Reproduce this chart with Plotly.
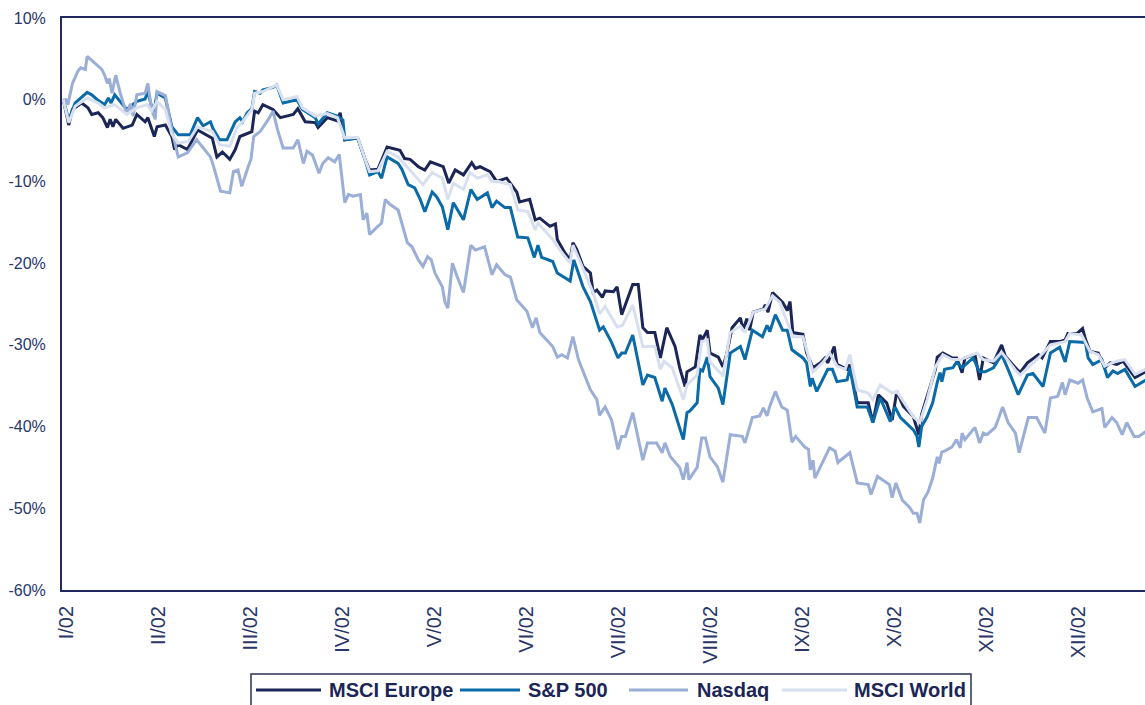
import plotly.graph_objects as go

# ---- Data (x = months since start of 2002, I/02 = 0; y = % change) ----
month_labels = ["I/02", "II/02", "III/02", "IV/02", "V/02", "VI/02",
                "VII/02", "VIII/02", "IX/02", "X/02", "XI/02", "XII/02"]
y_tick_vals = [10, 0, -10, -20, -30, -40, -50, -60]
y_tick_text = ["10%", "0%", "-10%", "-20%", "-30%", "-40%", "-50%", "-60%"]

europe_x = [-0.03, 0.03, 0.07, 0.17, 0.24, 0.28, 0.35, 0.40, 0.45, 0.48, 0.51, 0.54, 0.62, 0.72, 0.77, 0.86, 0.89,
            0.96, 0.99, 1.08, 1.15, 1.18, 1.22, 1.32, 1.43, 1.59, 1.64, 1.70, 1.78, 1.84, 1.89, 2.02, 2.05, 2.09,
            2.14, 2.25, 2.33, 2.47, 2.52, 2.60, 2.71, 2.74, 2.84, 2.95, 2.98, 3.03, 3.17, 3.25, 3.30, 3.39, 3.49,
            3.58, 3.63, 3.68, 3.74, 3.83, 3.90, 3.96, 4.10, 4.16, 4.23, 4.32, 4.41, 4.45, 4.50, 4.61, 4.68, 4.79,
            4.90, 4.93, 5.04, 5.10, 5.15, 5.26, 5.32, 5.34, 5.42, 5.48, 5.51, 5.55, 5.62, 5.70, 5.73, 5.77, 5.83,
            5.86, 5.95, 5.99, 6.04, 6.08, 6.16, 6.22, 6.27, 6.32, 6.40, 6.46, 6.53, 6.62, 6.67, 6.73, 6.75, 6.84,
            6.89, 6.92, 6.97, 7.00, 7.09, 7.14, 7.18, 7.24, 7.33, 7.36, 7.40, 7.43, 7.47, 7.58, 7.60, 7.63, 7.68,
            7.79, 7.84, 7.87, 7.90, 8.01, 8.05, 8.12, 8.20, 8.25, 8.28, 8.35, 8.38, 8.49, 8.52, 8.60, 8.72, 8.77,
            8.83, 8.92, 8.98, 9.03, 9.10, 9.21, 9.25, 9.27, 9.30, 9.39, 9.45, 9.47, 9.53, 9.63, 9.68, 9.74, 9.77,
            9.88, 9.93, 9.97, 10.08, 10.17, 10.21, 10.32, 10.37, 10.45, 10.57, 10.61, 10.70, 10.80, 10.86, 10.89,
            10.99, 11.05, 11.08, 11.13, 11.22, 11.29, 11.35, 11.42, 11.49, 11.62, 11.75]
europe_y = [0.0, -3.1, -1.2, -0.4, -1.0, -1.8, -1.6, -2.2, -3.4, -2.4, -3.3, -2.4, -3.5, -3.1, -1.8, -2.7, -2.2,
            -4.5, -3.3, -3.1, -4.5, -6.1, -5.5, -6.1, -3.7, -4.7, -7.0, -6.4, -7.3, -6.1, -4.5, -3.9, -1.4, -1.6,
            -0.6, -1.2, -2.2, -1.8, -1.1, -2.7, -2.8, -3.4, -2.2, -2.6, -1.6, -4.9, -4.7, -7.3, -8.6, -8.5, -5.8,
            -6.0, -6.2, -7.2, -7.3, -8.2, -8.6, -7.6, -8.2, -10.2, -8.6, -9.2, -7.7, -8.4, -8.2, -8.8, -10.0, -9.6,
            -11.3, -12.5, -12.2, -14.7, -14.5, -15.5, -15.2, -17.1, -18.7, -19.6, -17.5, -18.3, -20.4, -21.2, -23.6,
            -23.3, -24.2, -23.4, -23.5, -22.9, -26.3, -25.1, -22.6, -22.6, -27.9, -28.5, -28.5, -31.6, -27.9, -30.2,
            -32.8, -35.1, -33.3, -32.7, -28.8, -29.3, -28.2, -31.0, -31.5, -32.7, -31.2, -27.9, -26.7, -28.2, -26.8,
            -28.2, -26.0, -25.6, -25.1, -26.0, -23.6, -24.8, -25.8, -24.7, -28.5, -28.7, -31.0, -32.8, -32.2, -31.6,
            -32.2, -30.2, -32.4, -33.0, -32.4, -37.1, -37.1, -39.5, -36.1, -37.1, -39.2, -35.7, -37.5, -38.8, -40.1,
            -41.0, -38.5, -35.1, -33.0, -31.5, -31.0, -31.6, -31.6, -33.4, -31.6, -31.2, -34.3, -31.6, -32.2, -30.0,
            -31.4, -32.8, -33.4, -32.2, -31.2, -31.6, -29.6, -29.6, -29.4, -28.6, -28.6, -28.0, -29.3, -30.8, -31.0,
            -32.8, -32.2, -32.4, -32.0, -34.0, -33.2]

sp500_x = [-0.03, 0.03, 0.10, 0.23, 0.28, 0.34, 0.42, 0.46, 0.49, 0.53, 0.66, 0.77, 0.86, 0.89, 0.95, 0.99, 1.08,
           1.15, 1.22, 1.35, 1.43, 1.49, 1.57, 1.60, 1.67, 1.75, 1.84, 1.89, 1.92, 1.97, 2.02, 2.05, 2.11, 2.14,
           2.25, 2.29, 2.36, 2.51, 2.57, 2.71, 2.74, 2.84, 2.95, 3.01, 3.03, 3.17, 3.25, 3.30, 3.39, 3.43, 3.49,
           3.61, 3.65, 3.72, 3.79, 3.85, 3.90, 3.98, 4.03, 4.09, 4.15, 4.21, 4.32, 4.40, 4.47, 4.58, 4.63, 4.68,
           4.77, 4.83, 4.91, 5.02, 5.09, 5.13, 5.17, 5.29, 5.34, 5.48, 5.52, 5.62, 5.70, 5.73, 5.80, 5.84, 5.93,
           6.00, 6.04, 6.08, 6.16, 6.27, 6.32, 6.40, 6.48, 6.51, 6.59, 6.71, 6.75, 6.78, 6.86, 6.89, 6.92, 6.97,
           7.00, 7.09, 7.14, 7.22, 7.33, 7.38, 7.46, 7.57, 7.62, 7.65, 7.71, 7.79, 7.84, 7.89, 8.01, 8.05, 8.09,
           8.11, 8.16, 8.28, 8.33, 8.38, 8.49, 8.52, 8.60, 8.71, 8.77, 8.85, 8.96, 9.01, 9.07, 9.21, 9.25, 9.27,
           9.30, 9.36, 9.42, 9.47, 9.50, 9.52, 9.55, 9.64, 9.68, 9.74, 9.86, 9.93, 9.99, 10.08, 10.17, 10.24,
           10.35, 10.45, 10.51, 10.62, 10.70, 10.80, 10.86, 10.91, 11.02, 11.08, 11.11, 11.16, 11.26, 11.32,
           11.38, 11.43, 11.51, 11.62, 11.75]
sp500_y = [0.0, -2.5, -0.4, 0.9, 0.6, 0.0, -0.6, 0.2, -0.4, 0.6, -1.2, -0.2, 0.1, 1.0, -1.8, 0.8, 0.2,
           -3.3, -4.3, -4.3, -2.2, -3.2, -2.7, -3.6, -4.9, -4.9, -2.7, -2.2, -2.7, -1.6, -1.1, 1.0, 0.8, 1.2,
           1.5, 1.8, -0.4, 0.0, -1.2, -2.2, -3.0, -1.6, -2.0, -2.5, -4.9, -4.7, -7.3, -9.2, -8.8, -9.6, -7.0,
           -7.8, -8.5, -10.4, -10.8, -12.2, -13.7, -11.3, -11.9, -13.1, -15.9, -12.6, -14.7, -11.0, -12.2, -11.4,
           -13.2, -12.4, -13.2, -13.2, -16.8, -16.9, -19.3, -17.8, -19.3, -19.8, -21.2, -22.2, -19.6, -22.9, -24.7,
           -25.7, -28.2, -27.8, -29.7, -31.6, -31.0, -31.0, -28.8, -34.9, -33.7, -34.0, -36.9, -35.3, -37.3, -41.6,
           -38.3, -38.1, -37.1, -33.0, -33.2, -31.5, -33.9, -35.3, -37.3, -31.0, -30.2, -31.8, -28.2, -29.0, -27.6,
           -28.4, -26.3, -28.2, -28.2, -30.6, -31.6, -32.2, -35.1, -34.1, -35.7, -33.0, -33.0, -34.5, -34.3, -32.8,
           -37.6, -37.6, -39.5, -36.5, -39.4, -37.6, -38.9, -40.4, -41.2, -42.5, -40.0, -38.8, -37.1, -34.6, -33.4,
           -34.5, -33.0, -32.8, -32.1, -32.8, -31.6, -33.3, -33.3, -32.8, -31.2, -33.0, -36.1, -33.7, -33.5, -35.1,
           -31.0, -30.3, -32.1, -29.6, -29.7, -29.7, -31.6, -32.4, -31.8, -34.0, -33.2, -33.5, -33.0, -35.1, -34.2]

nasdaq_x = [-0.03, 0.00, 0.02, 0.07, 0.13, 0.16, 0.21, 0.23, 0.39, 0.42, 0.45, 0.47, 0.50, 0.54, 0.59, 0.66, 0.70,
            0.73, 0.77, 0.86, 0.89, 0.93, 0.97, 0.99, 1.08, 1.15, 1.22, 1.32, 1.42, 1.57, 1.60, 1.68, 1.78, 1.82,
            1.87, 1.91, 1.98, 2.01, 2.04, 2.11, 2.14, 2.20, 2.25, 2.30, 2.36, 2.47, 2.52, 2.58, 2.62, 2.68, 2.75,
            2.79, 2.85, 2.92, 2.97, 3.03, 3.07, 3.12, 3.20, 3.23, 3.27, 3.30, 3.38, 3.43, 3.47, 3.52, 3.61, 3.71,
            3.76, 3.83, 3.88, 3.93, 3.97, 4.01, 4.09, 4.12, 4.15, 4.20, 4.25, 4.32, 4.40, 4.45, 4.55, 4.63, 4.68,
            4.77, 4.83, 4.90, 5.01, 5.07, 5.11, 5.15, 5.29, 5.34, 5.39, 5.45, 5.51, 5.57, 5.70, 5.77, 5.80, 5.86,
            5.93, 6.00, 6.04, 6.08, 6.16, 6.22, 6.27, 6.32, 6.42, 6.48, 6.51, 6.57, 6.67, 6.71, 6.75, 6.77, 6.86,
            6.91, 6.95, 7.00, 7.08, 7.14, 7.22, 7.35, 7.38, 7.46, 7.54, 7.58, 7.62, 7.65, 7.71, 7.78, 7.84, 7.89,
            7.93, 8.03, 8.07, 8.09, 8.12, 8.14, 8.30, 8.36, 8.39, 8.52, 8.60, 8.72, 8.75, 8.82, 8.95, 8.98, 9.02,
            9.09, 9.17, 9.21, 9.25, 9.28, 9.32, 9.37, 9.42, 9.47, 9.49, 9.52, 9.55, 9.63, 9.68, 9.72, 9.74, 9.77,
            9.88, 9.93, 9.97, 10.01, 10.10, 10.14, 10.18, 10.24, 10.32, 10.36, 10.46, 10.55, 10.64, 10.70, 10.78,
            10.83, 10.86, 10.91, 11.00, 11.05, 11.10, 11.16, 11.26, 11.29, 11.37, 11.42, 11.48, 11.53, 11.61,
            11.66, 11.75]
nasdaq_y = [0.0, 0.0, -0.6, 2.0, 3.5, 3.9, 3.7, 5.3, 3.7, 3.0, 2.0, 2.6, 0.8, 3.0, 0.8, -1.8, -0.5,
            -2.0, 0.6, 0.8, 2.0, -1.2, -2.4, 1.0, 0.5, -3.7, -7.0, -6.5, -4.9, -7.0, -8.0, -11.2, -11.4, -8.8,
            -8.6, -10.6, -8.2, -7.3, -4.5, -3.9, -3.4, -2.4, -1.4, -3.7, -5.9, -5.9, -4.9, -7.8, -6.3, -6.8, -9.0,
            -7.8, -7.1, -7.6, -6.7, -12.6, -11.6, -11.8, -11.6, -14.7, -13.9, -16.5, -15.6, -15.1, -12.2, -12.8,
            -13.5, -17.5, -18.0, -19.6, -20.4, -19.2, -19.6, -21.2, -22.9, -24.8, -25.5, -20.0, -21.6, -23.6,
            -17.8, -18.4, -18.0, -21.4, -20.2, -21.4, -21.7, -24.5, -25.9, -27.9, -26.7, -28.5, -30.2, -31.5,
            -31.2, -31.6, -29.0, -31.8, -35.5, -36.7, -38.6, -37.6, -39.2, -42.8, -41.2, -41.2, -38.3, -41.6,
            -44.1, -42.0, -42.0, -43.2, -42.0, -43.7, -45.0, -46.5, -44.4, -46.5, -45.0, -41.4, -41.4, -43.7,
            -44.9, -46.8, -41.0, -41.2, -42.0, -38.9, -38.7, -37.7, -38.7, -37.5, -35.7, -37.6, -38.0, -41.9,
            -41.2, -42.5, -42.8, -45.3, -44.1, -46.3, -42.6, -43.0, -44.4, -43.2, -46.9, -47.1, -48.3, -46.1,
            -47.1, -48.7, -46.9, -49.0, -49.9, -50.6, -50.6, -51.8, -49.0, -48.0, -46.3, -43.7, -44.5, -43.1,
            -43.0, -42.5, -41.6, -42.6, -40.8, -41.6, -40.1, -42.0, -40.8, -41.0, -40.1, -38.9, -37.6, -39.5,
            -40.8, -43.2, -38.9, -38.9, -40.8, -36.5, -36.3, -34.6, -36.1, -34.3, -34.7, -34.3, -36.5, -38.2,
            -37.8, -40.1, -38.9, -39.5, -41.0, -39.5, -41.2, -41.2, -40.5]

world_x = [-0.03, 0.03, 0.10, 0.23, 0.35, 0.42, 0.53, 0.66, 0.77, 0.88, 0.93, 0.99, 1.08, 1.15, 1.22, 1.33, 1.43,
           1.59, 1.67, 1.78, 1.86, 1.89, 2.02, 2.05, 2.14, 2.29, 2.36, 2.51, 2.57, 2.71, 2.84, 2.95, 3.03, 3.17,
           3.25, 3.30, 3.39, 3.49, 3.61, 3.74, 3.88, 3.98, 4.09, 4.15, 4.21, 4.32, 4.39, 4.47, 4.58, 4.63, 4.70,
           4.83, 4.91, 5.02, 5.10, 5.13, 5.29, 5.37, 5.48, 5.51, 5.62, 5.73, 5.80, 5.86, 5.99, 6.05, 6.16, 6.27,
           6.40, 6.46, 6.50, 6.59, 6.71, 6.75, 6.86, 6.91, 6.97, 7.00, 7.11, 7.14, 7.22, 7.33, 7.38, 7.47, 7.60,
           7.68, 7.76, 7.79, 7.90, 8.01, 8.05, 8.12, 8.23, 8.30, 8.38, 8.47, 8.52, 8.60, 8.72, 8.77, 8.85, 8.98,
           9.03, 9.21, 9.28, 9.36, 9.45, 9.53, 9.63, 9.72, 9.90, 9.97, 10.08, 10.17, 10.32, 10.37, 10.57, 10.70,
           10.86, 10.91, 11.04, 11.13, 11.22, 11.29, 11.42, 11.51, 11.62, 11.75]
world_y = [0.0, -2.8, -0.8, 0.2, -0.4, -1.0, -0.6, -1.8, -1.0, -0.6, -1.4, -0.2, -1.2, -4.2, -5.3, -5.1, -3.3,
           -3.9, -5.5, -5.7, -3.4, -3.1, -1.2, 0.8, 1.0, 1.8, 0.0, 0.4, -1.0, -2.0, -1.7, -2.2, -4.7, -4.6,
           -7.3, -8.8, -8.7, -6.3, -7.0, -8.6, -10.4, -8.9, -9.6, -12.2, -10.2, -11.0, -8.9, -9.6, -9.2, -10.0,
           -10.0, -10.4, -13.5, -13.7, -15.9, -15.1, -17.1, -18.4, -20.0, -17.8, -20.6, -23.6, -26.2, -25.3,
           -27.8, -27.6, -25.1, -30.2, -30.2, -33.0, -32.0, -32.8, -36.7, -34.9, -33.7, -29.6, -29.4, -32.1,
           -33.4, -33.8, -28.5, -27.7, -28.5, -26.0, -25.6, -24.0, -24.8, -25.8, -29.0, -29.0, -30.6, -33.3,
           -32.1, -31.0, -32.6, -33.0, -31.2, -35.5, -35.9, -36.7, -34.9, -35.9, -35.7, -38.8, -39.5, -36.7,
           -32.7, -31.2, -31.8, -31.8, -31.0, -31.8, -32.0, -30.9, -33.1, -33.7, -31.6, -30.0, -29.6, -28.6,
           -28.8, -30.8, -31.2, -32.6, -32.0, -31.8, -33.6, -32.9]

series_names = ["MSCI Europe", "S&P 500", "Nasdaq", "MSCI World"]
series_colors = ["#1b2657", "#0a6ba8", "#9aaed6", "#d8e0f0"]

# ---- Figure ----
NAVY = "#1f2b5c"
FONT = "Liberation Sans, Arial, sans-serif"

fig = go.Figure()
all_x = [europe_x, sp500_x, nasdaq_x, world_x]
all_y = [europe_y, sp500_y, nasdaq_y, world_y]
for name, color, xs, ys in zip(series_names, series_colors, all_x, all_y):
    fig.add_trace(go.Scatter(x=xs, y=ys, name=name, mode="lines",
                             line=dict(color=color, width=3), showlegend=False))

fig.update_layout(
    width=1145, height=705,
    margin=dict(l=62, r=0, t=18, b=115, autoexpand=False),
    paper_bgcolor="white", plot_bgcolor="white",
    font=dict(family=FONT, color="#2a3668"),
    xaxis=dict(range=[-0.0435, 11.728], tickmode="array", automargin=False,
               tickvals=list(range(len(month_labels))), ticktext=month_labels,
               tickangle=-90, tickfont=dict(size=20, family=FONT, color="#2a3668"),
               showgrid=False, zeroline=False, showline=True, mirror=True,
               linecolor=NAVY, linewidth=2, ticks="", ticklabelstandoff=6),
    yaxis=dict(range=[-60, 10], tickmode="array", tickvals=y_tick_vals, ticktext=y_tick_text,
               automargin=False,
               tickfont=dict(size=16, family=FONT, color="#2a3668"),
               showgrid=False, zeroline=False, showline=True, mirror=False,
               linecolor=NAVY, linewidth=2, ticks="", ticklabelstandoff=11),
)

# ---- Legend (drawn manually to match the long line samples) ----
def px_x(p):
    return (p - 62) / 1083.0

def px_y(p):
    return (590 - p) / 572.0

fig.add_shape(type="rect", xref="paper", yref="paper",
              x0=px_x(251), x1=px_x(971), y0=px_y(720), y1=px_y(674),
              line=dict(color="#2a3154", width=1.5), fillcolor="rgba(0,0,0,0)")
legend_line_px = [(256, 321), (460, 520), (629, 688), (782, 847)]
legend_text_px = [327, 526, 695, 852]
for name, color, (a, b), t in zip(series_names, series_colors, legend_line_px, legend_text_px):
    fig.add_shape(type="line", xref="paper", yref="paper",
                  x0=px_x(a), x1=px_x(b), y0=px_y(690), y1=px_y(690),
                  line=dict(color=color, width=3))
    fig.add_annotation(xref="paper", yref="paper", x=px_x(t), y=px_y(690),
                       text="<b>%s</b>" % name, showarrow=False,
                       xanchor="left", yanchor="middle",
                       font=dict(family=FONT, size=20, color="#1c2656"))

fig.write_html("out.html", config={"displayModeBar": False},
               post_script="document.body.style.margin='0';document.body.style.overflow='hidden';")
